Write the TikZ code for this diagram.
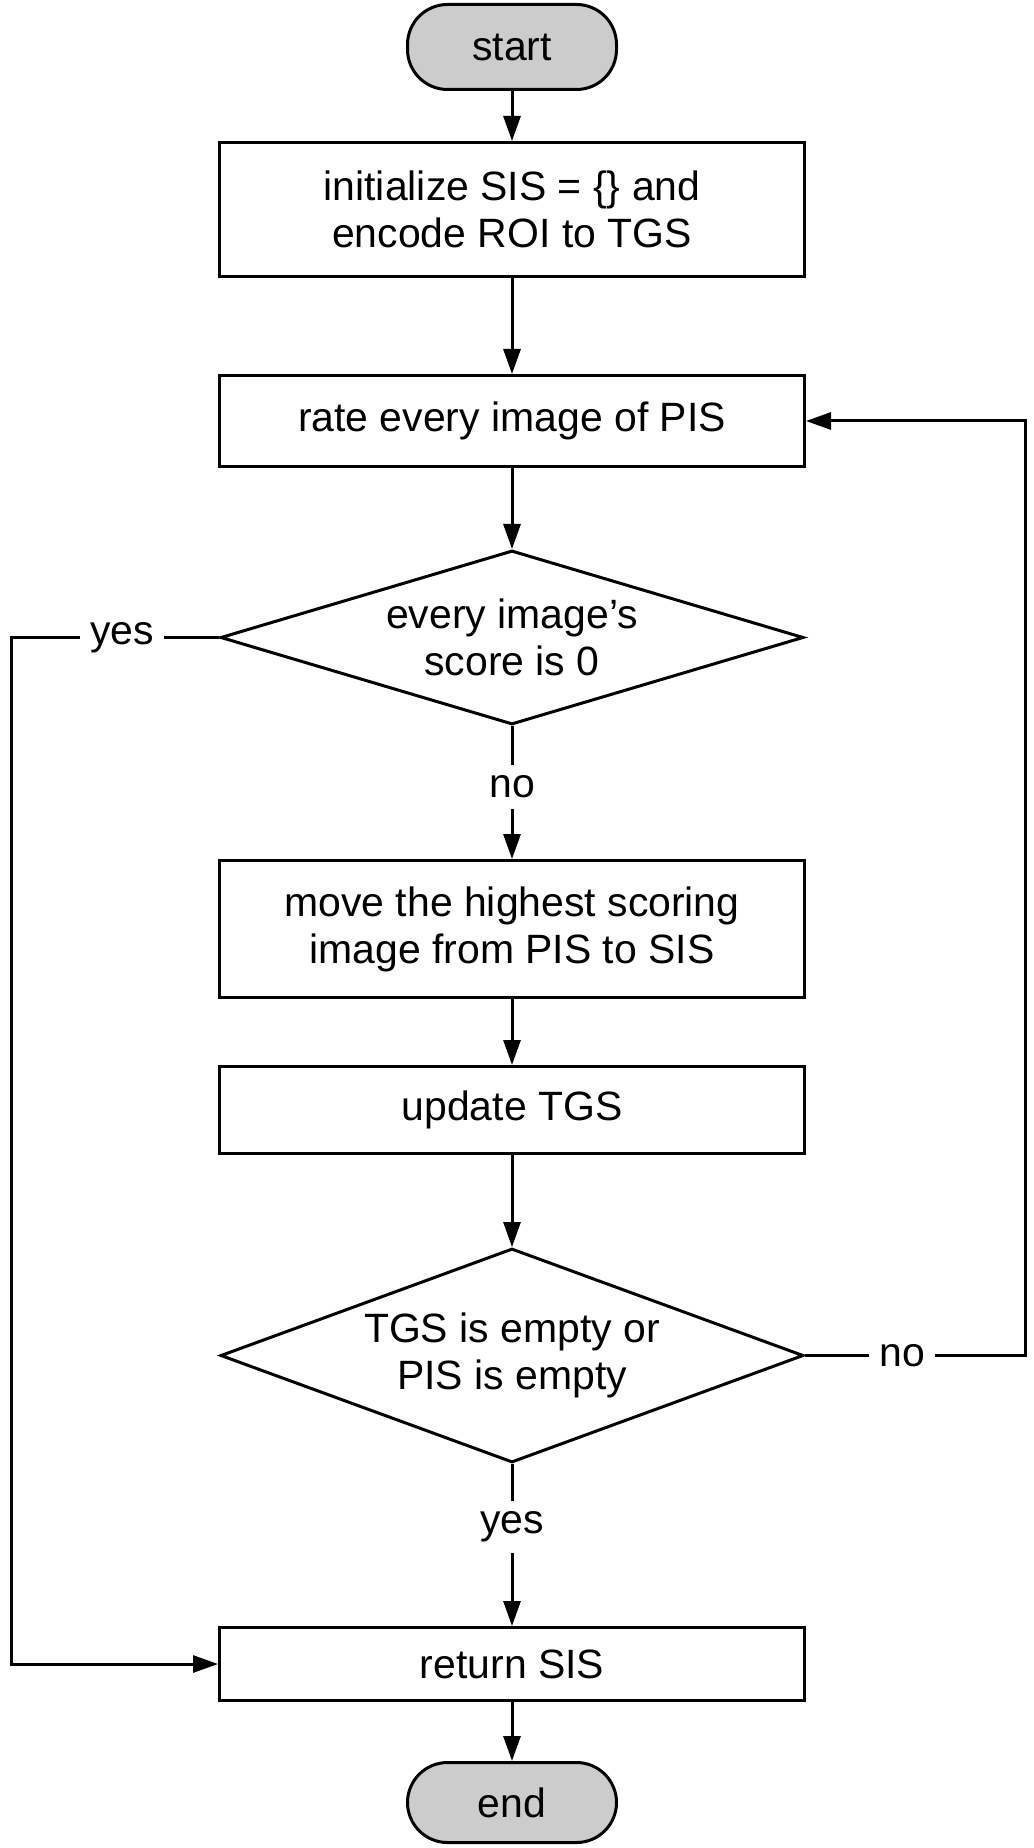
\documentclass[tikz,border=0pt]{standalone}
\usepackage{fontspec}
\setmainfont{Liberation Sans}
\usetikzlibrary{shapes.geometric,   % losanges
           positioning,             % placement relatif
           arrows.meta,             % pointes de fleches
           calc}
\tikzset{
  terminal/.style={draw, line width=0.06cm, fill=black!20, rounded corners=0.8cm,
                   minimum width=4.18cm, minimum height=1.7cm},
  process/.style={draw, line width=0.06cm, align=center, minimum width=11.7cm},
  decision/.style={draw, diamond, line width=0.06cm, align=center, inner sep=0pt,
                   minimum width=11.66cm},
  answer/.style={inner sep=0.2cm},
  flow/.style={line width=0.06cm, -{Triangle[length=0.5cm,width=0.34cm]}},
  wire/.style={line width=0.06cm}
}

\begin{document}
\begin{tikzpicture}[font=\fontsize{23.3pt}{26.8pt}\selectfont]
\useasboundingbox (0,0) rectangle (20.68,-36.96);
\node[terminal](start)at(10.24,-0.94){start};
\node[process, minimum height=2.68cm, below=1.0cm of start](init){initialize SIS = \{\} and\\encode ROI to TGS};
\node[process, minimum height=1.82cm, below=1.92cm of init](rate){rate every image of PIS};
\node[decision, minimum height=3.48cm, aspect=3.35, below=1.62cm of rate](zero){every image’s\\score is 0};
\node[process, minimum height=2.74cm, below=2.66cm of zero](move){move the highest scoring\\image from PIS to SIS};
\node[process, minimum height=1.74cm, below=1.32cm of move](update){update TGS};
\node[decision, minimum height=4.28cm, aspect=2.72, below=1.84cm of update](empty){TGS is empty or\\PIS is empty};
\node[process, minimum height=1.46cm, below=3.24cm of empty](ret){return SIS};
\node[terminal, minimum height=1.6cm, below=1.18cm of ret](end){end};
\node[answer](nozero)at(10.24,-15.74){no};
\node[answer](yeszero)at(2.44,0|-zero){yes};
\node[answer](yesempty)at(10.24,-30.54){yes};
\node[answer](noempty)at(18.04,0|-empty){no};
\coordinate(leftrail)at(0.22,0);
\coordinate(rightrail)at(20.5,0);
\draw[flow](start)--(init);
\draw[flow](init)--(rate);
\draw[flow](rate)--(zero);
\draw[wire](zero)--(nozero);
\draw[flow](nozero)--(move);
\draw[flow](move)--(update);
\draw[flow](update)--(empty);
\draw[wire](empty)--(yesempty);
\draw[flow](yesempty)--(ret);
\draw[flow](ret)--(end);
\draw[wire](zero)--(yeszero);
\draw[flow](yeszero)--(yeszero-|leftrail)--(ret-|leftrail)--(ret);
\draw[wire](empty)--(noempty);
\draw[flow](noempty)--(noempty-|rightrail)--(rate-|rightrail)--(rate);
\end{tikzpicture}
\end{document}
